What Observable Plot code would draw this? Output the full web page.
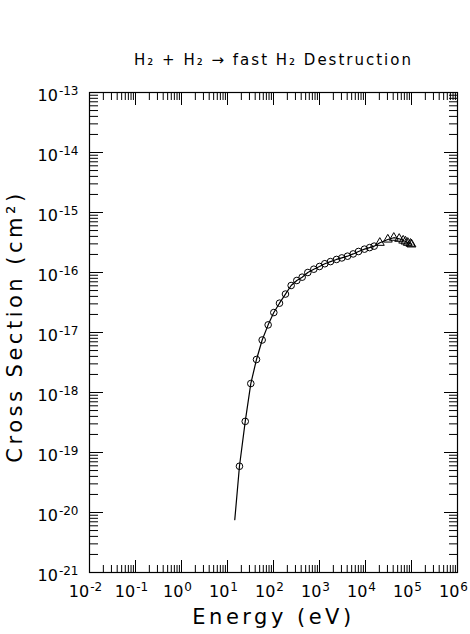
<!DOCTYPE html>
<html>
<head>
<meta charset="utf-8">
<script src="https://cdn.jsdelivr.net/npm/d3@7"></script>
<script src="https://cdn.jsdelivr.net/npm/@observablehq/plot@0.6"></script>
<style>
  html, body { margin: 0; padding: 0; background: #fff; }
  svg { display: block; }
</style>
</head>
<body>
<div id="chart"></div>
<script>
// ---- data ----
const titleText = "H\u2082 + H\u2082 \u2192 fast H\u2082 Destruction";
const xLabel = "Energy (eV)";
const yLabel = "Cross Section (cm\u00B2)";

// fitted curve (line) – energies in eV, cross sections in cm^2
const lineEnergy = [14.4, 18.2, 24.3, 32.1, 42.7, 56.7, 76.5, 101.6, 135, 182, 242, 321, 420, 557, 752, 1000, 1304, 1733, 2344, 3055, 4064, 5400, 7050, 9500, 12300, 15450, 20470, 30550, 41200, 54000, 66000, 74000, 83000, 95000, 100000];
const lineSigma  = [7.6e-21, 5.9e-20, 3.3e-19, 1.41e-18, 3.55e-18, 7.5e-18, 1.34e-17, 2.15e-17, 3.08e-17, 4.37e-17, 6.07e-17, 7.36e-17, 8.36e-17, 1.0e-16, 1.135e-16, 1.26e-16, 1.40e-16, 1.52e-16, 1.65e-16, 1.75e-16, 1.87e-16, 2.04e-16, 2.24e-16, 2.45e-16, 2.6e-16, 2.75e-16, 3.13e-16, 3.55e-16, 3.8e-16, 3.65e-16, 3.41e-16, 3.29e-16, 3.13e-16, 3.02e-16, 2.94e-16];

// circle markers
const circleEnergy = [18.2, 24.3, 32.1, 42.7, 56.7, 76.5, 101.6, 135, 182, 242, 321, 420, 557, 752, 1000, 1304, 1733, 2344, 3055, 4064, 5400, 7050, 9500, 12300, 15450];
const circleSigma  = [5.9e-20, 3.3e-19, 1.41e-18, 3.55e-18, 7.5e-18, 1.34e-17, 2.15e-17, 3.08e-17, 4.37e-17, 6.07e-17, 7.36e-17, 8.36e-17, 1.0e-16, 1.135e-16, 1.26e-16, 1.40e-16, 1.52e-16, 1.65e-16, 1.75e-16, 1.87e-16, 2.04e-16, 2.24e-16, 2.45e-16, 2.6e-16, 2.75e-16];
// triangle markers near the peak
const triEnergy = [20470, 30550, 41200, 54000, 66000, 74000, 83000, 95000, 100000];
const triSigma  = [3.13e-16, 3.55e-16, 3.8e-16, 3.65e-16, 3.41e-16, 3.29e-16, 3.13e-16, 3.02e-16, 2.94e-16];

// axes
const xMajorExp = [-2, -1, 0, 1, 2, 3, 4, 5, 6];
const yMajorExp = [-21, -20, -19, -18, -17, -16, -15, -14, -13];
const minorMult = [2, 3, 4, 5, 6, 7, 8, 9];

// ---- build ----
const xMajor = xMajorExp.map(e => Math.pow(10, e));
const yMajor = yMajorExp.map(e => Math.pow(10, e));
const xMinor = xMajorExp.slice(0, -1).flatMap(e => minorMult.map(m => m * Math.pow(10, e)));
const yMinor = yMajorExp.slice(0, -1).flatMap(e => minorMult.map(m => m * Math.pow(10, e)));

const fmt = v => "10^" + Math.round(Math.log10(v));

const line = lineEnergy.map((x, i) => ({x, y: lineSigma[i]}));
const circles = circleEnergy.map((x, i) => ({x, y: circleSigma[i]}));
const tris = triEnergy.map((x, i) => ({x, y: triSigma[i]}));

const W = 470, H = 634;
const chart = Plot.plot({
  width: W,
  height: H,
  marginLeft: 89,
  marginRight: 13,
  marginTop: 92,
  marginBottom: 62,
  style: {fontFamily: "DejaVu Sans", fontSize: "15px", color: "#000", background: "#fff", overflow: "visible"},
  x: {type: "log", domain: [1e-2, 1e6], axis: null},
  y: {type: "log", domain: [1e-21, 1e-13], axis: null},
  marks: [
    Plot.frame({stroke: "#000", strokeWidth: 1.2}),
    // minor ticks (inward, all four sides)
    Plot.axisX(xMinor, {anchor: "bottom", tickSize: -7, fill: "none", stroke: "#000"}),
    Plot.axisX(xMinor, {anchor: "top", tickSize: -7, fill: "none", stroke: "#000"}),
    Plot.axisY(yMinor, {anchor: "left", tickSize: -9, fill: "none", stroke: "#000"}),
    Plot.axisY(yMinor, {anchor: "right", tickSize: -9, fill: "none", stroke: "#000"}),
    // major ticks
    Plot.axisX(xMajor, {anchor: "bottom", tickSize: -12, fill: "none", stroke: "#000"}),
    Plot.axisX(xMajor, {anchor: "top", tickSize: -12, fill: "none", stroke: "#000"}),
    Plot.axisY(yMajor, {anchor: "left", tickSize: -14, fill: "none", stroke: "#000"}),
    Plot.axisY(yMajor, {anchor: "right", tickSize: -14, fill: "none", stroke: "#000"}),
    // tick labels
    Plot.axisX(xMajor, {anchor: "bottom", tickSize: 0, tickPadding: 13, tickFormat: fmt, fontSize: 16, label: null, dx: -4}),
    Plot.axisY(yMajor, {anchor: "left", tickSize: 0, tickPadding: 11, tickFormat: fmt, fontSize: 16, label: null, dy: 3}),
    // data
    Plot.line(line, {x: "x", y: "y", stroke: "#000", strokeWidth: 1.2}),
    Plot.dot(circles, {x: "x", y: "y", r: 3.3, stroke: "#000", fill: "none", strokeWidth: 1}),
    Plot.dot(tris, {x: "x", y: "y", symbol: "triangle", r: 3.3, stroke: "#000", fill: "none", strokeWidth: 1}),
    // titles
    Plot.text([titleText], {frameAnchor: "top", dy: -38, fontSize: 15, text: d => d}),
    Plot.text([xLabel], {frameAnchor: "bottom", dy: 51, fontSize: 21, text: d => d}),
    Plot.text([yLabel], {frameAnchor: "left", textAnchor: "middle", dx: -74, dy: -6, rotate: -90, fontSize: 21, text: d => d})
  ]
});
// superscript exponents as real text tspans
d3.select(chart).selectAll("text").each(function() {
  const t = this.textContent;
  const m = /^10\^(-?\d+)$/.exec(t);
  if (!m) return;
  const sel = d3.select(this);
  sel.text(null);
  sel.append("tspan").text("10");
  sel.append("tspan").attr("font-size", 12).attr("dy", "-0.5em").attr("dx", 1).text(m[1]);
});
// letter spacing for the stroke-font look
d3.select(chart).selectAll("text").filter(function() {
  const t = this.textContent; return t === xLabel || t === yLabel;
}).attr("letter-spacing", "3.5px");
d3.select(chart).selectAll("text").filter(function() {
  return this.textContent === titleText;
}).attr("letter-spacing", "2px");
document.getElementById("chart").appendChild(chart);
</script>
</body>
</html>
